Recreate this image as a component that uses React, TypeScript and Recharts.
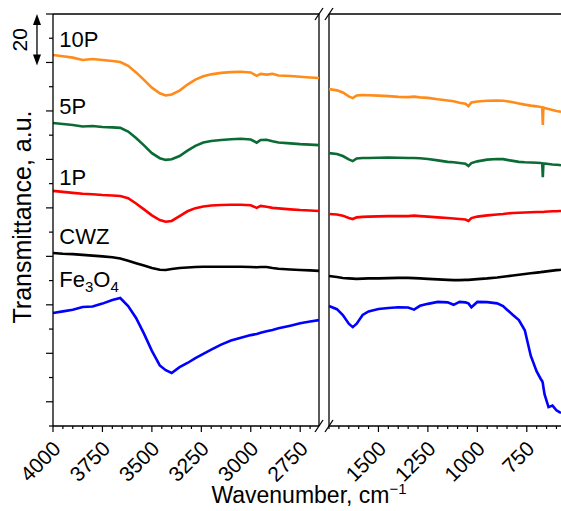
import { LineChart, Line, XAxis, YAxis, ReferenceLine, ReferenceDot } from 'recharts'

const FONT = '"Liberation Sans", Arial, Helvetica, sans-serif'
const W = 561
const H = 511

// wavenumbers, cm-1 (left panel: O-H region, right panel: fingerprint region)
const leftWn = [4000, 3950, 3900, 3850, 3800, 3750, 3700, 3660, 3620, 3580, 3540, 3500, 3460, 3430, 3400, 3360, 3320, 3280, 3240, 3200, 3150, 3100, 3050, 3000, 2970, 2950, 2920, 2890, 2860, 2800, 2750, 2700, 2655]
const rightWn = [1750, 1710, 1680, 1650, 1630, 1610, 1580, 1550, 1500, 1450, 1400, 1350, 1320, 1290, 1250, 1200, 1150, 1120, 1090, 1060, 1045, 1030, 1000, 950, 900, 870, 850, 820, 790, 760, 730, 700, 680, 672, 669, 666, 660, 640, 620, 600, 585, 577]

// transmittance (a.u., curves already offset)
const p10Left = [153.1, 152.6, 152.0, 151.0, 151.4, 151.0, 150.6, 150.2, 148.6, 145.9, 142.8, 139.6, 137.3, 136.4, 136.8, 138.4, 140.9, 142.9, 144.3, 145.1, 145.7, 146.0, 146.2, 145.9, 144.5, 145.3, 145.0, 145.3, 144.6, 144.4, 144.1, 143.8, 143.6]
const p5Left = [125.0, 124.6, 124.2, 123.6, 123.8, 123.4, 123.2, 123.0, 121.5, 118.8, 115.8, 112.6, 110.5, 109.8, 110.1, 111.4, 113.6, 115.6, 117.0, 117.6, 118.0, 118.3, 118.5, 118.2, 116.9, 118.0, 118.1, 117.5, 117.0, 116.6, 116.3, 116.1, 115.9]
const p1Left = [97.0, 96.6, 96.2, 95.8, 95.6, 95.3, 95.1, 94.9, 94.0, 91.8, 89.4, 86.9, 85.0, 84.3, 84.6, 86.6, 88.6, 89.9, 90.6, 91.0, 91.2, 91.3, 91.3, 91.1, 90.0, 90.8, 90.5, 90.0, 89.8, 89.4, 89.1, 88.9, 88.7]
const cwzLeft = [71.4, 71.1, 70.9, 70.6, 70.3, 70.0, 69.6, 69.1, 68.2, 67.2, 66.2, 65.2, 64.5, 64.4, 64.8, 65.2, 65.4, 65.6, 65.7, 65.7, 65.7, 65.7, 65.7, 65.6, 65.5, 65.6, 65.6, 65.2, 64.9, 64.6, 64.4, 64.2, 64.0]
const feLeft = [46.6, 47.3, 48.0, 49.1, 49.3, 50.5, 52.0, 52.8, 49.5, 44.6, 38.1, 31.0, 25.0, 23.0, 21.9, 24.3, 26.0, 28.0, 29.8, 31.5, 33.6, 35.3, 36.4, 37.5, 38.0, 38.5, 39.1, 39.6, 40.3, 41.4, 42.4, 43.1, 43.7]

const p10Right = [139.0, 138.5, 137.6, 136.0, 135.3, 136.4, 136.6, 136.5, 136.3, 136.1, 135.8, 135.7, 135.9, 135.6, 135.4, 134.8, 134.3, 134.0, 133.4, 133.0, 132.0, 133.5, 133.9, 134.2, 134.3, 134.2, 134.0, 133.6, 133.1, 132.6, 132.2, 131.9, 131.6, 131.5, 124.2, 131.4, 131.2, 130.8, 130.4, 130.0, 129.8, 129.6]
const p5Right = [112.6, 112.2, 111.4, 110.0, 109.3, 110.4, 110.6, 110.6, 110.7, 110.8, 110.7, 110.6, 110.6, 110.5, 110.2, 109.6, 109.0, 108.8, 108.5, 108.2, 107.3, 108.5, 109.2, 109.9, 110.2, 110.1, 109.8, 109.4, 109.0, 108.8, 108.7, 108.6, 108.5, 108.4, 102.7, 108.3, 108.3, 108.1, 107.9, 107.8, 107.7, 107.6]
const p1Right = [87.5, 87.3, 86.8, 85.8, 85.4, 86.1, 86.3, 86.4, 86.5, 86.6, 86.6, 86.6, 86.8, 86.6, 86.4, 86.1, 85.8, 85.6, 85.4, 85.2, 84.6, 85.8, 86.4, 86.9, 87.3, 87.5, 87.7, 87.9, 88.0, 88.1, 88.2, 88.3, 88.3, 88.3, 88.3, 88.3, 88.4, 88.5, 88.6, 88.6, 88.7, 88.7]
const cwzRight = [61.9, 61.5, 61.1, 60.9, 60.8, 60.7, 60.8, 60.9, 60.9, 61.0, 61.1, 61.1, 61.0, 60.9, 60.7, 60.5, 60.3, 60.2, 60.2, 60.3, 60.3, 60.4, 60.6, 60.9, 61.3, 61.6, 61.8, 62.1, 62.4, 62.7, 63.0, 63.3, 63.5, 63.6, 63.6, 63.6, 63.7, 63.9, 64.1, 64.3, 64.4, 64.5]
const feRight = [49.5, 48.2, 45.8, 42.2, 40.8, 42.2, 45.8, 47.3, 48.3, 48.7, 49.0, 48.9, 48.0, 49.6, 50.4, 51.2, 51.0, 50.0, 51.2, 51.0, 50.6, 49.0, 51.2, 51.1, 50.6, 49.5, 48.0, 45.8, 43.7, 39.5, 29.0, 22.5, 19.5, 18.5, 17.7, 16.0, 13.0, 7.8, 8.4, 6.5, 5.7, 5.4]

// axes
const yTicks = [0, 10, 20, 30, 40, 50, 60, 70, 80, 90, 100, 110, 120, 130, 140, 150, 160, 170]
const yMajor = [10, 30, 50, 70, 90, 110, 130, 150, 170]
const leftLabels = [4000, 3750, 3500, 3250, 3000, 2750]
const rightLabels = [1500, 1250, 1000, 750]
const leftTicks: number[] = []
for (let w = 4000; w >= 2700; w -= 50) leftTicks.push(w)
const rightTicks: number[] = []
for (let w = 1750; w >= 600; w -= 50) rightTicks.push(w)

const series = [
  { key: 'p10', name: '10P', color: '#FF8C1A', left: p10Left, right: p10Right, labelY: 156.4 },
  { key: 'p5', name: '5P', color: '#0B6B35', left: p5Left, right: p5Right, labelY: 128.7 },
  { key: 'p1', name: '1P', color: '#FF0000', left: p1Left, right: p1Right, labelY: 99.4 },
  { key: 'cwz', name: 'CWZ', color: '#000000', left: cwzLeft, right: cwzRight, labelY: 75.2 },
  { key: 'fe', name: 'Fe3O4', color: '#0000FF', left: feLeft, right: feRight, labelY: 57.3 },
]

const leftData = leftWn.map((wn, i) => {
  const row: any = { wn }
  series.forEach((s) => { row[s.key] = s.left[i] })
  return row
})
const rightData = rightWn.map((wn, i) => {
  const row: any = { wn }
  series.forEach((s) => { row[s.key] = s.right[i] })
  return row
})

const AX = { stroke: '#000', strokeWidth: 1.3 }

function XTick(props: any) {
  const { x, y, payload, labels } = props
  const major = labels.includes(payload.value)
  const tx = x + 9
  const ty = y + 24
  return (
    <g>
      <line x1={x} x2={x} y1={y} y2={y + (major ? 6 : 3)} stroke="#000" strokeWidth={1.2} />
      {major && (
        <text x={tx} y={ty} textAnchor="end" fontSize={21} fontFamily={FONT} fill="#000"
          transform={`rotate(-45 ${tx} ${ty})`}>{payload.value}</text>
      )}
    </g>
  )
}

function YTick(props: any) {
  const { x, y, payload } = props
  const len = yMajor.includes(payload.value) ? 7 : 4
  return <line x1={x} x2={x - len} y1={y} y2={y} stroke="#000" strokeWidth={1.2} />
}

function YTitle(props: any) {
  const vb = props.viewBox || { y: 14, height: 412 }
  const cy = vb.y + vb.height / 2 - 3
  return (
    <text x={22} y={cy} transform={`rotate(-90 22 ${cy})`} textAnchor="middle" dominantBaseline="central"
      fontSize={25} fontFamily={FONT} fill="#000">Transmittance, a.u.</text>
  )
}

function XTitle() {
  return (
    <text x={309} y={503} textAnchor="middle" fontSize={23} fontFamily={FONT} fill="#000">
      Wavenumber, cm<tspan dy={-9} fontSize={15}>−1</tspan>
    </text>
  )
}

// vertical panel edge with the "//" break marks at both ends
function BreakEdge(props: any) {
  const { x1, y1, y2 } = props
  const top = Math.min(y1, y2)
  const bottom = Math.max(y1, y2)
  return (
    <g stroke="#000" strokeWidth={1.3}>
      <line x1={x1} y1={top} x2={x1} y2={bottom} />
      <line x1={x1 - 4} y1={top + 6} x2={x1 + 4} y2={top - 6} />
      <line x1={x1 - 4} y1={bottom + 6} x2={x1 + 4} y2={bottom - 6} />
    </g>
  )
}

function ScaleBar(props: any) {
  const { x1, y1, y2 } = props
  const top = Math.min(y1, y2)
  const bottom = Math.max(y1, y2) + 3
  const tx = x1 - 17
  const ty = (top + bottom) / 2
  return (
    <g>
      <line x1={x1} x2={x1} y1={top + 4} y2={bottom - 4} stroke="#000" strokeWidth={1.3} />
      <path d={`M${x1} ${top} l-4 11 h8 z`} fill="#000" />
      <path d={`M${x1} ${bottom} l-4 -11 h8 z`} fill="#000" />
      <text x={tx} y={ty} transform={`rotate(-90 ${tx} ${ty})`} textAnchor="middle" dominantBaseline="central"
        fontSize={21} fontFamily={FONT} fill="#000">20</text>
    </g>
  )
}

function SeriesLabel({ cx, cy, name }: any) {
  if (name === 'Fe3O4') {
    return (
      <text x={cx} y={cy} fontSize={22} fontFamily={FONT} fill="#000">
        Fe<tspan dy={5} fontSize={15}>3</tspan><tspan dy={-5}>O</tspan><tspan dy={5} fontSize={15}>4</tspan>
      </text>
    )
  }
  return <text x={cx} y={cy} fontSize={22} fontFamily={FONT} fill="#000">{name}</text>
}

export default function App() {
  return (
    <div style={{ position: 'absolute', left: 0, top: 0, width: W, height: H, background: '#fff' }}>
      <div style={{ position: 'absolute', left: 0, top: 0 }}>
        <LineChart width={W} height={H} data={leftData} margin={{ top: 14, right: 242, bottom: 0, left: 0 }}>
          <XAxis dataKey="wn" type="number" domain={[2655, 4000]} reversed ticks={leftTicks} interval={0}
            tickSize={0} tickMargin={0} tickLine={false} axisLine={AX} height={85}
            tick={(p: any) => <XTick {...p} labels={leftLabels} />} label={<XTitle />} />
          <YAxis type="number" domain={[0, 170]} ticks={yTicks} interval={0} width={53}
            tickSize={0} tickMargin={0} tickLine={false} axisLine={AX}
            tick={(p: any) => <YTick {...p} />} label={<YTitle />} />
          <ReferenceLine y={170} stroke="#000" strokeWidth={1.3} />
          <ReferenceLine x={2655} shape={(p: any) => <BreakEdge {...p} />} />
          <ReferenceLine segment={[{ x: 4081, y: 150 }, { x: 4081, y: 170 }]} ifOverflow="visible"
            shape={(p: any) => <ScaleBar {...p} />} />
          {series.map((s) => (
            <Line key={s.key} dataKey={s.key} stroke={s.color} strokeWidth={2.6} dot={false}
              isAnimationActive={false} />
          ))}
          {series.map((s) => (
            <ReferenceDot key={'lbl' + s.key} x={3968} y={s.labelY} r={0}
              shape={(p: any) => <SeriesLabel {...p} name={s.name} />} />
          ))}
        </LineChart>
      </div>
      <div style={{ position: 'absolute', left: 0, top: 0 }}>
        <LineChart width={W} height={H} data={rightData} margin={{ top: 14, right: 0, bottom: 0, left: 329 }}>
          <XAxis dataKey="wn" type="number" domain={[577, 1750]} reversed ticks={rightTicks} interval={0}
            tickSize={0} tickMargin={0} tickLine={false} axisLine={AX} height={85}
            tick={(p: any) => <XTick {...p} labels={rightLabels} />} />
          <YAxis hide type="number" domain={[0, 170]} />
          <ReferenceLine y={170} stroke="#000" strokeWidth={1.3} />
          <ReferenceLine x={1750} shape={(p: any) => <BreakEdge {...p} />} />
          {series.map((s) => (
            <Line key={s.key} dataKey={s.key} stroke={s.color} strokeWidth={2.6} dot={false}
              isAnimationActive={false} />
          ))}
        </LineChart>
      </div>
    </div>
  )
}
